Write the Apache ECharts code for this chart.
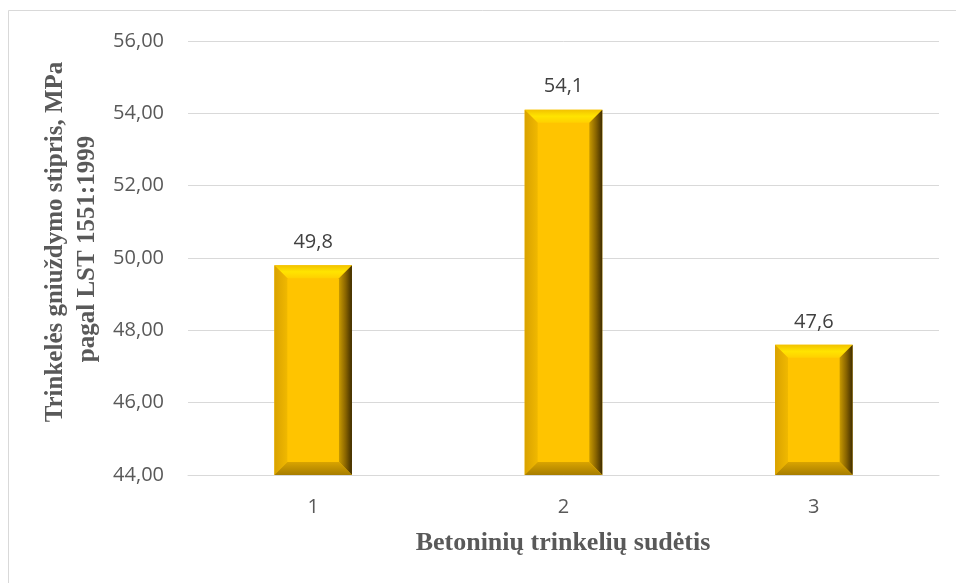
<!DOCTYPE html>
<html>
<head>
<meta charset="utf-8">
<script src="https://cdn.jsdelivr.net/npm/echarts@6/dist/echarts.min.js"></script>
<style>
  html, body { margin: 0; padding: 0; background: #ffffff; }
  #chart { width: 956px; height: 583px; }
</style>
</head>
<body>
<div id="chart"></div>
<script>
// Compression strength of concrete paving blocks per mix
const categories = ['1', '2', '3'];
const strength = [49.8, 54.1, 47.6];
const yTicks = { min: 44, max: 56, step: 2 };
const xTitle = 'Betoninių trinkelių sudėtis';
const yTitle = ['Trinkelės gniuždymo stipris, MPa', 'pagal LST 1551:1999'];

const fmt = v => String(v).replace('.', ',');
const numFont = '20px "Open Sans", sans-serif';
const titleFont = 'bold 25px "Liberation Serif", serif';

const chart = echarts.init(document.getElementById('chart'));

// Bevelled gold column: flat face plus four sloped edges
function renderBevelBar(params, api) {
  const idx = api.value(0);
  const val = api.value(1);
  const top = api.coord([idx, val]);
  const base = api.coord([idx, yTicks.min]);
  const bw = api.size([1, 0])[0] * 0.31;
  const x0 = top[0] - bw / 2, x1 = top[0] + bw / 2;
  const y0 = top[1], y1 = base[1];
  const b = Math.min(13, (y1 - y0) / 2);
  const grad = (x, y, x2, y2, stops) => new echarts.graphic.LinearGradient(x, y, x2, y2,
    stops.map((c, i) => ({ offset: i / (stops.length - 1), color: c })));
  return {
    type: 'group',
    children: [
      { type: 'rect', shape: { x: x0, y: y0, width: bw, height: y1 - y0 },
        style: { fill: '#FFC400' } },
      { type: 'polygon', shape: { points: [[x0, y0], [x1, y0], [x1 - b, y0 + b], [x0 + b, y0 + b]] },
        style: { fill: grad(0, 0, 0, 1, ['#F2C200', '#FFE400', '#FFD000']) } },
      { type: 'polygon', shape: { points: [[x0, y0], [x0 + b, y0 + b], [x0 + b, y1 - b], [x0, y1]] },
        style: { fill: grad(0, 0, 1, 0, ['#D9A200', '#F0B800']) } },
      { type: 'polygon', shape: { points: [[x1, y0], [x1, y1], [x1 - b, y1 - b], [x1 - b, y0 + b]] },
        style: { fill: grad(0, 0, 1, 0, ['#C99A00', '#8A6500', '#3E2C00']) } },
      { type: 'polygon', shape: { points: [[x0, y1], [x1, y1], [x1 - b, y1 - b], [x0 + b, y1 - b]] },
        style: { fill: grad(0, 0, 0, 1, ['#D9A400', '#A77D00']) } },
      { type: 'text', style: {
          text: fmt(val), x: top[0], y: y0 - 23, align: 'center', verticalAlign: 'middle',
          fill: '#404040', font: numFont } }
    ]
  };
}

chart.setOption({
  animation: false,
  backgroundColor: '#ffffff',
  grid: { left: 188, right: 17, top: 41, bottom: 108, containLabel: false },
  graphic: [
    { type: 'rect', silent: true, z: -1,
      shape: { x: 8.5, y: 10.5, width: 1200, height: 1200 },
      style: { fill: 'none', stroke: '#d9d9d9', lineWidth: 1 } },
    { type: 'text', silent: true, x: 56, y: 242, rotation: Math.PI / 2,
      style: { text: yTitle[0], font: titleFont, fill: '#595959', align: 'center', verticalAlign: 'middle' } },
    { type: 'text', silent: true, x: 88, y: 249, rotation: Math.PI / 2,
      style: { text: yTitle[1], font: titleFont, fill: '#595959', align: 'center', verticalAlign: 'middle' } },
    { type: 'text', silent: true, x: 563, y: 543,
      style: { text: xTitle, font: 'bold 26px "Liberation Serif", serif', fill: '#595959', align: 'center', verticalAlign: 'middle' } }
  ],
  xAxis: {
    type: 'category',
    data: categories,
    axisLine: { show: true, lineStyle: { color: '#d9d9d9', width: 1 } },
    axisTick: { show: false },
    axisLabel: { color: '#595959', fontSize: 20, fontFamily: '"Open Sans", sans-serif', margin: 22 }
  },
  yAxis: {
    type: 'value',
    min: yTicks.min,
    max: yTicks.max,
    interval: yTicks.step,
    axisLine: { show: false },
    axisTick: { show: false },
    splitLine: { lineStyle: { color: '#d9d9d9', width: 1 } },
    axisLabel: {
      color: '#595959', fontSize: 20, fontFamily: '"Open Sans", sans-serif', margin: 24,
      formatter: v => v.toFixed(2).replace('.', ',')
    }
  },
  series: [{
    type: 'custom',
    renderItem: renderBevelBar,
    encode: { x: 0, y: 1 },
    data: strength.map((v, i) => [i, v]),
    clip: false
  }]
});
</script>
</body>
</html>
